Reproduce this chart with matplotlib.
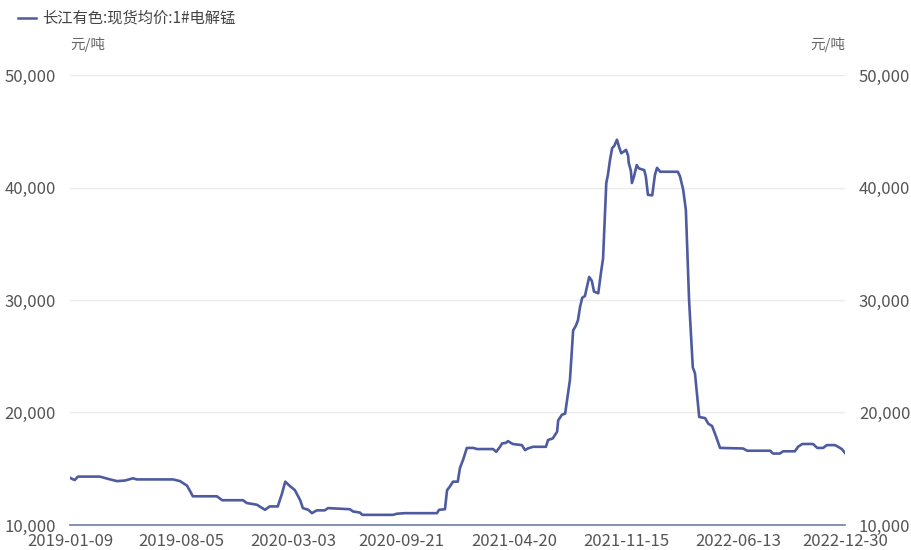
import matplotlib.pyplot as plt
import pandas as pd

plt.rcParams['font.family'] = ['Noto Sans CJK SC', 'DejaVu Sans']

# 长江有色:现货均价:1#电解锰 (元/吨)
dates = [
    "2019-01-09", "2019-01-15", "2019-01-18", "2019-01-24", "2019-03-06", "2019-03-21",
    "2019-04-07", "2019-04-22", "2019-05-07", "2019-05-14", "2019-07-21", "2019-08-03",
    "2019-08-16", "2019-08-22", "2019-08-27", "2019-10-11", "2019-10-21", "2019-11-29",
    "2019-12-06", "2019-12-25", "2020-01-09", "2020-01-18", "2020-02-02", "2020-02-10",
    "2020-02-16", "2020-02-25", "2020-03-05", "2020-03-15", "2020-03-20", "2020-03-30",
    "2020-04-06", "2020-04-15", "2020-04-30", "2020-05-06", "2020-06-16", "2020-06-22",
    "2020-07-05", "2020-07-09", "2020-09-05", "2020-09-12", "2020-09-27", "2020-11-26",
    "2020-11-30", "2020-12-11", "2020-12-15", "2020-12-20", "2020-12-26", "2021-01-04",
    "2021-01-08", "2021-01-14", "2021-01-21", "2021-02-02", "2021-02-09", "2021-03-11",
    "2021-03-17", "2021-03-24", "2021-03-28", "2021-04-04", "2021-04-08", "2021-04-17",
    "2021-05-04", "2021-05-10", "2021-05-15", "2021-05-25", "2021-06-18", "2021-06-22",
    "2021-07-01", "2021-07-09", "2021-07-11", "2021-07-18", "2021-07-24", "2021-07-29",
    "2021-08-02", "2021-08-08", "2021-08-13", "2021-08-17", "2021-08-21", "2021-08-25",
    "2021-08-30", "2021-09-03", "2021-09-07", "2021-09-12", "2021-09-16", "2021-09-24",
    "2021-09-29", "2021-10-03", "2021-10-06", "2021-10-09", "2021-10-12", "2021-10-16",
    "2021-10-20", "2021-10-24", "2021-10-29", "2021-11-02", "2021-11-06", "2021-11-11",
    "2021-11-15", "2021-11-19", "2021-11-20", "2021-11-24", "2021-11-26", "2021-11-30",
    "2021-12-05", "2021-12-09", "2021-12-19", "2021-12-22", "2021-12-26", "2022-01-03",
    "2022-01-08", "2022-01-12", "2022-01-18", "2022-02-20", "2022-02-24", "2022-03-02",
    "2022-03-07", "2022-03-13", "2022-03-20", "2022-03-24", "2022-04-01", "2022-04-12",
    "2022-04-18", "2022-04-25", "2022-05-03", "2022-05-10", "2022-06-22", "2022-06-30",
    "2022-08-12", "2022-08-17", "2022-08-30", "2022-09-05", "2022-09-27", "2022-10-03",
    "2022-10-11", "2022-10-31", "2022-11-08", "2022-11-19", "2022-11-26", "2022-12-11",
    "2022-12-17", "2022-12-24", "2022-12-30",
]
prices = [
    14200, 14050, 14000, 14300, 14300, 14100,
    13900, 13950, 14150, 14050, 14050, 13900,
    13500, 13000, 12550, 12550, 12200, 12200,
    11950, 11800, 11350, 11650, 11650, 12800,
    13850, 13450, 13100, 12200, 11500, 11350,
    11050, 11300, 11300, 11500, 11400, 11200,
    11100, 10900, 10900, 11000, 11050, 11050,
    11350, 11400, 13100, 13400, 13850, 13850,
    15050, 15800, 16850, 16850, 16750, 16750,
    16500, 16950, 17250, 17300, 17450, 17200,
    17100, 16650, 16800, 16950, 16950, 17550,
    17700, 18300, 19300, 19800, 19900, 21550,
    22900, 27300, 27700, 28200, 29400, 30200,
    30350, 31200, 32050, 31700, 30750, 30600,
    32400, 33700, 37000, 40400, 41100, 42450,
    43500, 43700, 44250, 43600, 43050, 43200,
    43350, 42800, 42200, 41500, 40400, 41000,
    42000, 41700, 41550, 41000, 39350, 39300,
    41100, 41750, 41400, 41400, 41000, 39800,
    38000, 30000, 24000, 23500, 19600, 19500,
    19000, 18800, 17800, 16850, 16800, 16600,
    16600, 16350, 16350, 16550, 16550, 16950,
    17200, 17200, 16850, 16850, 17100, 17100,
    16950, 16750, 16400,
]
tick_dates = ["2019-01-09", "2019-08-05", "2020-03-03", "2020-09-21",
              "2021-04-20", "2021-11-15", "2022-06-13", "2022-12-30"]
y_ticks = [10000, 20000, 30000, 40000, 50000]

series_name = "长江有色:现货均价:1#电解锰"
unit = "元/吨"

x = pd.to_datetime(dates)

fig = plt.figure(figsize=(9.11, 5.5), dpi=100)
ax = fig.add_axes([0.0768, 0.0455, 0.8508, 0.8181])

line_color = "#4e5ba0"
ax.plot(x, prices, color=line_color, lw=1.9)

ax.set_xlim(x[0], x[-1])
ax.set_ylim(10000, 50000)
ax.set_yticks(y_ticks)
ax.set_yticklabels([f"{v:,}" for v in y_ticks])
ax.set_xticks(pd.to_datetime(tick_dates))
ax.set_xticklabels(tick_dates)

ax.grid(axis="y", color="#ebebeb", lw=1)
ax.set_axisbelow(True)
for side in ["top", "left", "right"]:
    ax.spines[side].set_visible(False)
ax.spines["bottom"].set_color("#6f7ea8")
ax.spines["bottom"].set_linewidth(1.2)

ax.tick_params(axis="y", length=0, labelsize=12, labelcolor="#555555",
               labelright=True, pad=10)
ax.tick_params(axis="x", length=0, labelsize=12, labelcolor="#555555", pad=6)

# lift the lowest y labels a little, as in the reference
for lbl in (ax.get_yticklabels()[0], ax.yaxis.get_ticklabels(which="major")[0]):
    lbl.set_va("bottom")
for tk in ax.yaxis.get_major_ticks()[:1]:
    tk.label1.set_va("center_baseline")
    tk.label2.set_va("center_baseline")

# units
fig.text(70 / 911, 1 - 44 / 550, unit, fontsize=10.5, color="#666666",
         ha="left", va="center")
fig.text(845 / 911, 1 - 44 / 550, unit, fontsize=10.5, color="#666666",
         ha="right", va="center")

# legend
fig.add_artist(plt.Line2D([18 / 911, 36 / 911], [1 - 18 / 550] * 2,
                          color=line_color, lw=1.8))
fig.text(42 / 911, 1 - 18 / 550, series_name, fontsize=11, color="#444444",
         ha="left", va="center")

plt.savefig("out.png", dpi=100)
